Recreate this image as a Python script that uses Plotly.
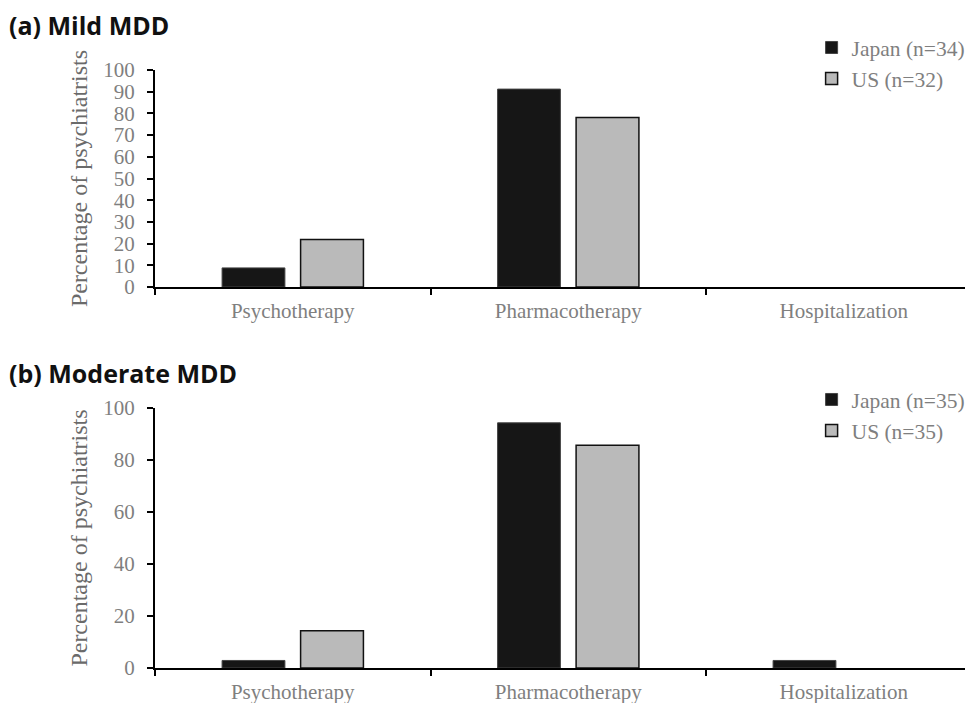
import plotly.graph_objects as go

categories = ["Psychotherapy", "Pharmacotherapy", "Hospitalization"]

# (a) Mild MDD
mild_japan = [8.8, 91.2, 0]
mild_us = [21.9, 78.1, 0]
mild_japan_name = "Japan (n=34)"
mild_us_name = "US (n=32)"

# (b) Moderate MDD
mod_japan = [2.9, 94.3, 2.9]
mod_us = [14.3, 85.7, 0]
mod_japan_name = "Japan (n=35)"
mod_us_name = "US (n=35)"

mild_ticks = list(range(0, 101, 10))
mod_ticks = list(range(0, 101, 20))

JAPAN_COLOR = "#161616"
US_COLOR = "#bababa"
GREY = "#7f7f7f"
SERIF = "Liberation Serif, Times New Roman, serif"


def outline(values, w):
    return [w if v > 0 else 0 for v in values]


fig = go.Figure()

fig.add_trace(go.Bar(x=categories, y=mild_japan, name=mild_japan_name,
                     marker=dict(color=JAPAN_COLOR, line=dict(color="#444", width=outline(mild_japan, 1))),
                     xaxis="x", yaxis="y", legend="legend"))
fig.add_trace(go.Bar(x=categories, y=mild_us, name=mild_us_name,
                     marker=dict(color=US_COLOR, line=dict(color="#111", width=outline(mild_us, 1.5))),
                     xaxis="x", yaxis="y", legend="legend"))
fig.add_trace(go.Bar(x=categories, y=mod_japan, name=mod_japan_name,
                     marker=dict(color=JAPAN_COLOR, line=dict(color="#444", width=outline(mod_japan, 1))),
                     xaxis="x2", yaxis="y2", legend="legend2"))
fig.add_trace(go.Bar(x=categories, y=mod_us, name=mod_us_name,
                     marker=dict(color=US_COLOR, line=dict(color="#111", width=outline(mod_us, 1.5))),
                     xaxis="x2", yaxis="y2", legend="legend2"))

W, H = 965, 695
L, T, B = 147, 62, 35
H_PLOT = float(H - T - B)   # 598
W_PLOT = float(W - L)       # 818
PLOT_BOTTOM = H - B         # 660

top_dom = [381 / H_PLOT, 1.0]
bot_dom = [0.0, 260 / H_PLOT]
x_range = [-0.5, -0.5 + W_PLOT / 275.5]

xcommon = dict(type="category", range=x_range, showline=True, linecolor="black", linewidth=2,
               ticks="outside", tickson="boundaries", ticklen=6, tickwidth=1.5, tickcolor="black",
               tickfont=dict(family=SERIF, size=21, color=GREY), showgrid=False,
               ticklabelstandoff=4, zeroline=False, fixedrange=True)
ycommon = dict(range=[0, 100], showline=True, linecolor="black", linewidth=2,
               ticks="outside", ticklen=6, tickwidth=1.5, tickcolor="black",
               tickfont=dict(family=SERIF, size=21, color=GREY), showgrid=False,
               zeroline=False, ticklabelstandoff=8,
               title=dict(text="Percentage of psychiatrists",
                          font=dict(family=SERIF, size=24, color="#6a6a6a"), standoff=9))

legend_font = dict(family=SERIF, size=21.5, color=GREY)
LEG_X = (803.6 - L) / W_PLOT

fig.update_layout(
    width=W, height=H,
    margin=dict(l=L, r=0, t=T, b=B),
    paper_bgcolor="white", plot_bgcolor="white",
    barmode="group", bargap=0.43, bargroupgap=0.2,
    xaxis=dict(xcommon, domain=[0, 1], anchor="y"),
    yaxis=dict(ycommon, domain=top_dom, anchor="x", tickvals=mild_ticks),
    xaxis2=dict(xcommon, domain=[0, 1], anchor="y2"),
    yaxis2=dict(ycommon, domain=bot_dom, anchor="x2", tickvals=mod_ticks),
    legend=dict(x=LEG_X, y=(PLOT_BOTTOM - 19) / H_PLOT, xanchor="left", yanchor="top",
                font=legend_font, bgcolor="rgba(0,0,0,0)", itemwidth=30, tracegroupgap=0),
    legend2=dict(x=LEG_X, y=(PLOT_BOTTOM - 371) / H_PLOT, xanchor="left", yanchor="top",
                 font=legend_font, bgcolor="rgba(0,0,0,0)", itemwidth=30, tracegroupgap=0),
    annotations=[
        dict(text="<b>(a) Mild MDD</b>", xref="paper", yref="paper",
             x=-L / W_PLOT, y=(PLOT_BOTTOM - 17) / H_PLOT, xanchor="left", yanchor="middle",
             xshift=-1, showarrow=False,
             font=dict(family="Open Sans, sans-serif", size=25, color="#111")),
        dict(text="<b>(b) Moderate MDD</b>", xref="paper", yref="paper",
             x=-L / W_PLOT, y=(PLOT_BOTTOM - 365) / H_PLOT, xanchor="left", yanchor="middle",
             xshift=-1, showarrow=False,
             font=dict(family="Open Sans, sans-serif", size=25, color="#111")),
    ],
)

fig.write_html("out.html")
